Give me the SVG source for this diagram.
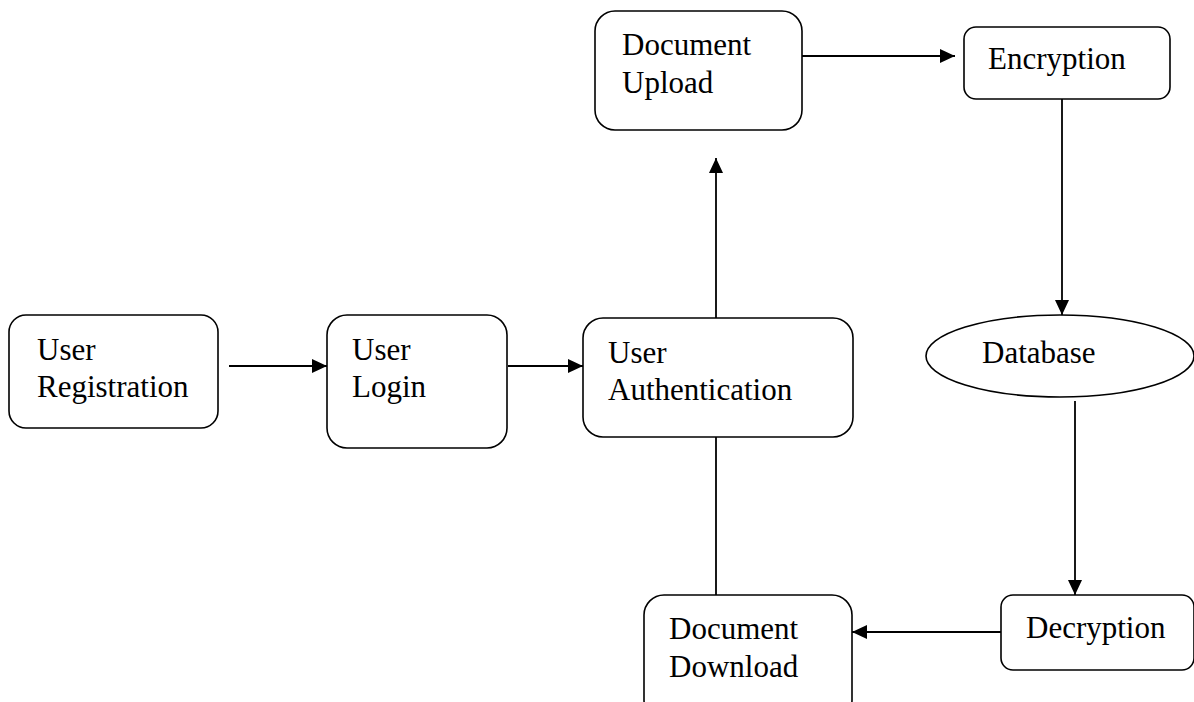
<svg xmlns="http://www.w3.org/2000/svg" width="1194" height="702" viewBox="0 0 1194 702">
<style>
.box{fill:#fff;stroke:#000;stroke-width:1.6}
.lbl{font-family:"Liberation Serif","Times New Roman",serif;font-size:31px;fill:#000}
.ln{stroke:#000;stroke-width:1.8;fill:none}
</style>
<defs>
<marker id="ah" markerUnits="userSpaceOnUse" markerWidth="16" markerHeight="14" refX="15" refY="7" orient="auto">
<path d="M0,0 L15,7 L0,14 z" fill="#000"/>
</marker>
</defs>
<rect width="1194" height="702" fill="#fff"/>
<g id="connectors">
<line class="ln" x1="229" y1="366" x2="327" y2="366" marker-end="url(#ah)"/>
<line class="ln" x1="508" y1="366" x2="583" y2="366" marker-end="url(#ah)"/>
<line class="ln" x1="716" y1="318" x2="716" y2="158" marker-end="url(#ah)"/>
<line class="ln" x1="802" y1="56" x2="955" y2="56" marker-end="url(#ah)"/>
<line class="ln" x1="1062" y1="99" x2="1062" y2="315" marker-end="url(#ah)"/>
<line class="ln" x1="1075" y1="401" x2="1075" y2="595" marker-end="url(#ah)"/>
<line class="ln" x1="1001" y1="632" x2="852" y2="632" marker-end="url(#ah)"/>
<line class="ln" x1="716" y1="432" x2="716" y2="596"/>
</g>
<g id="user-registration">
<rect class="box" x="9" y="315" width="209" height="113" rx="17"/>
<text class="lbl" x="37" y="360">User</text>
<text class="lbl" x="37" y="397">Registration</text>
</g>
<g id="user-login">
<rect class="box" x="327" y="315" width="180" height="133" rx="20"/>
<text class="lbl" x="352" y="360">User</text>
<text class="lbl" x="352" y="397">Login</text>
</g>
<g id="user-authentication">
<rect class="box" x="583" y="318" width="270" height="119" rx="20"/>
<text class="lbl" x="608" y="363">User</text>
<text class="lbl" x="608" y="400">Authentication</text>
</g>
<g id="document-upload">
<rect class="box" x="595" y="11" width="207" height="119" rx="20"/>
<text class="lbl" x="622" y="55">Document</text>
<text class="lbl" x="622" y="93">Upload</text>
</g>
<g id="encryption">
<rect class="box" x="964" y="27" width="206" height="72" rx="12"/>
<text class="lbl" x="988" y="69">Encryption</text>
</g>
<g id="database">
<ellipse class="box" cx="1060" cy="356" rx="134" ry="41"/>
<text class="lbl" x="982" y="363">Database</text>
</g>
<g id="decryption">
<rect class="box" x="1001" y="595" width="193" height="75" rx="12"/>
<text class="lbl" x="1026" y="638">Decryption</text>
</g>
<g id="document-download">
<rect class="box" x="644" y="595" width="208" height="125" rx="20"/>
<text class="lbl" x="669" y="639">Document</text>
<text class="lbl" x="669" y="677">Download</text>
</g>
</svg>
